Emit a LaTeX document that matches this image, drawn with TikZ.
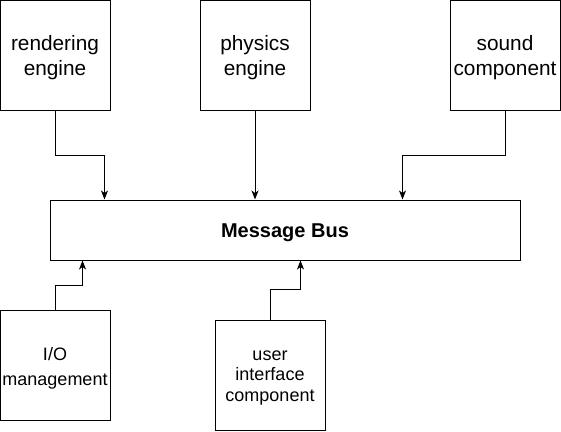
\documentclass[tikz,border=0pt]{standalone}
\usepackage{fontspec}
\setmainfont{Liberation Sans}
\usetikzlibrary{arrows.meta}
\begin{document}
\begin{tikzpicture}[x=1pt,y=-1pt,
  comp/.style={draw=black,line width=1pt,minimum width=110pt,minimum height=110pt,inner sep=0pt},
  txt/.style={align=center,inner sep=0pt,yshift=-3pt},
  topfont/.style={font=\fontsize{20.8}{25}\selectfont},
  botfont/.style={font=\fontsize{18}{20.5}\selectfont},
  iofont/.style={font=\fontsize{18}{25}\selectfont},
  busbox/.style={draw=black,line width=1pt,minimum width=470pt,minimum height=60pt,inner sep=0pt},
  busfont/.style={font=\fontsize{20}{24}\selectfont\bfseries},
  arr/.style={draw=black,line width=1pt,-{Stealth[length=9pt,width=7pt,inset=2.5pt]}}]
\useasboundingbox (0,0) rectangle (561,431);
\node[comp,label={[txt,topfont]center:{rendering\\engine}}] (ren) at (55,55) {};
\node[comp,label={[txt,topfont]center:{physics\\engine}}] (phys) at (255,55) {};
\node[comp,label={[txt,topfont]center:{sound\\component}}] (snd) at (505,55) {};
\node[busbox,label={[txt,busfont]center:{Message Bus}}] (bus) at (285,230) {};
\node[comp,label={[txt,iofont]center:{I/O\\management}}] (io) at (55,365) {};
\node[comp,label={[txt,botfont]center:{user\\interface\\component}}] (ui) at (270,375) {};
\draw[arr] (ren.south) -- ++(0,45) -| ([xshift=55pt]bus.north west);
\draw[arr] (phys.south) -- (phys.south |- bus.north);
\draw[arr] (snd.south) -- ++(0,45) -| ([xshift=353pt]bus.north west);
\draw[arr] (io.north) -- ++(0,-24) -| ([xshift=33pt]bus.south west);
\draw[arr] (ui.north) -- ++(0,-30) -| ([xshift=251pt]bus.south west);
\end{tikzpicture}
\end{document}
